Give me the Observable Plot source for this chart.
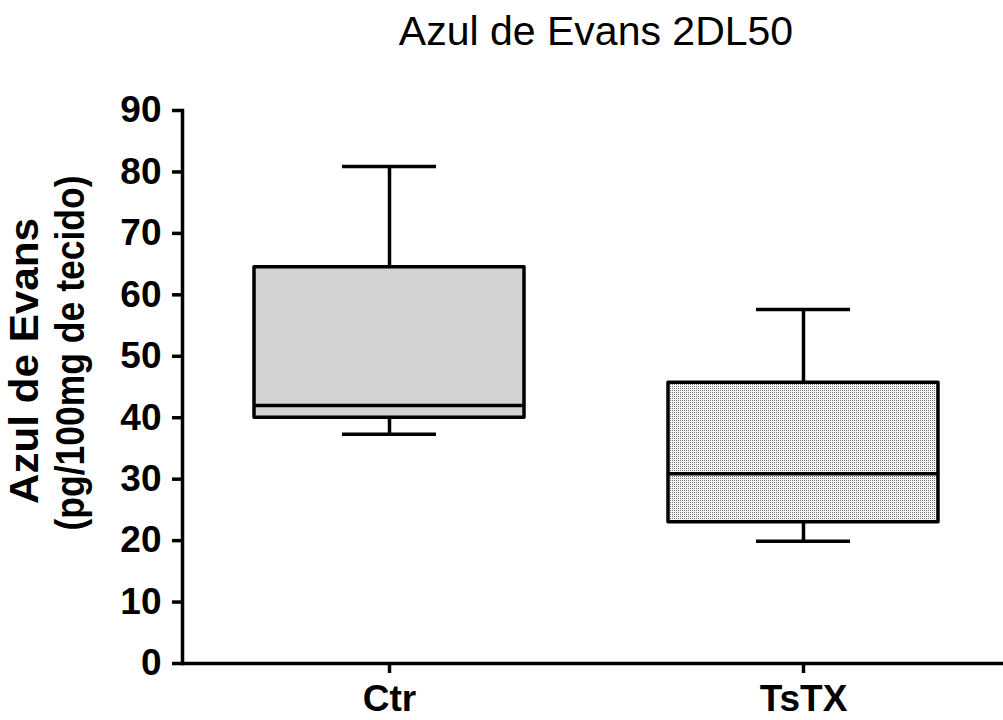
<!DOCTYPE html>
<html>
<head>
<meta charset="utf-8">
<script src="https://cdn.jsdelivr.net/npm/d3@7"></script>
<script src="https://cdn.jsdelivr.net/npm/@observablehq/plot@0.6"></script>
<style>
  body { margin: 0; background: #fff; }
  #wrap { width: 1003px; height: 720px; position: relative; overflow: hidden; }
  #title { font-family: "Liberation Sans", Arial, sans-serif; font-size: 41px; line-height: 41px;
           height: 56px; padding-top: 11px; padding-left: 189px; text-align: center; color: #000; box-sizing: border-box; }
</style>
</head>
<body>
<div id="wrap">
  <div id="title">Azul de Evans 2DL50</div>
  <div id="chart"></div>
</div>
<script>
const groups = ["Ctr", "TsTX"];
const whiskerLow = [37.3, 19.9];
const q1 = [40.0, 23.0];
const median = [42.0, 30.9];
const q3 = [64.5, 45.7];
const whiskerHigh = [80.9, 57.6];
const yTicks = [0, 10, 20, 30, 40, 50, 60, 70, 80, 90];
const yLabelLine1 = "Azul de Evans";
const yLabelLine2 = "(pg/100mg de tecido)";

const rows = groups.map((g, i) => ({
  group: g, low: whiskerLow[i], q1: q1[i], median: median[i], q3: q3[i], high: whiskerHigh[i]
}));

const font = "Liberation Sans, Arial, sans-serif";
const sw = 3.5;

const plot = Plot.plot({
  width: 1003,
  height: 664,
  marginTop: 54,
  marginBottom: 57,
  marginLeft: 182,
  marginRight: 0,
  style: { fontFamily: font, background: "#fff", color: "#000", overflow: "visible" },
  x: { type: "band", domain: groups, range: [182, 1010], padding: 0, label: null },
  y: { domain: [0, 90], label: null },
  color: { domain: groups, range: ["#d3d3d3", "url(#stipple)"] },
  marks: [
    Plot.ruleX(rows, { x: "group", y1: "low", y2: "q1", stroke: "#000", strokeWidth: sw }),
    Plot.ruleX(rows, { x: "group", y1: "q3", y2: "high", stroke: "#000", strokeWidth: sw }),
    Plot.tickY(rows, { x: "group", y: "low", stroke: "#000", strokeWidth: sw, insetLeft: 160, insetRight: 160 }),
    Plot.tickY(rows, { x: "group", y: "high", stroke: "#000", strokeWidth: sw, insetLeft: 160, insetRight: 160 }),
    Plot.barY(rows, { x: "group", y1: "q1", y2: "q3", fill: "group", stroke: "#000", strokeWidth: sw,
                      insetLeft: 72, insetRight: 72, strokeLinejoin: "round" }),
    Plot.tickY(rows, { x: "group", y: "median", stroke: "#000", strokeWidth: sw, insetLeft: 72, insetRight: 72 }),
    Plot.axisY({ ticks: yTicks, tickSize: 10, tickPadding: 11, tickFormat: d => d, label: null,
                 fontSize: 37, fontWeight: "bold", strokeWidth: sw }),
    Plot.axisX({ tickSize: 10, tickPadding: 11, label: null, fontSize: 37, fontWeight: "bold", strokeWidth: sw }),
    Plot.ruleY([0], { stroke: "#000", strokeWidth: sw }),
    Plot.frame({ anchor: "left", stroke: "#000", strokeWidth: sw }),
    Plot.text([yLabelLine1], { className: "ylab1", frameAnchor: "left", rotate: -90, dx: -145, dy: -26, fontSize: 41,
                          fontWeight: "bold", textAnchor: "middle", lineAnchor: "bottom", fill: "#000" }),
    Plot.text([yLabelLine2], { className: "ylab2", frameAnchor: "left", rotate: -90, dx: -99, dy: -34, fontSize: 41,
                          fontWeight: "bold", textAnchor: "middle", lineAnchor: "bottom", fill: "#000" })
  ]
});

const svg = d3.select(plot);
svg.selectAll(".ylab1 text").attr("textLength", 286).attr("lengthAdjust", "spacingAndGlyphs");
svg.selectAll(".ylab2 text").attr("textLength", 355).attr("lengthAdjust", "spacingAndGlyphs");
const defs = svg.insert("defs", ":first-child");
const pat = defs.append("pattern").attr("id", "stipple").attr("patternUnits", "userSpaceOnUse")
  .attr("width", 2).attr("height", 2);
pat.append("rect").attr("width", 2).attr("height", 2).attr("fill", "#fff");
pat.append("rect").attr("width", 1).attr("height", 1).attr("fill", "#777");
pat.append("rect").attr("x", 1).attr("y", 1).attr("width", 1).attr("height", 1).attr("fill", "#e8e8e8");

document.getElementById("chart").appendChild(plot);
</script>
</body>
</html>
